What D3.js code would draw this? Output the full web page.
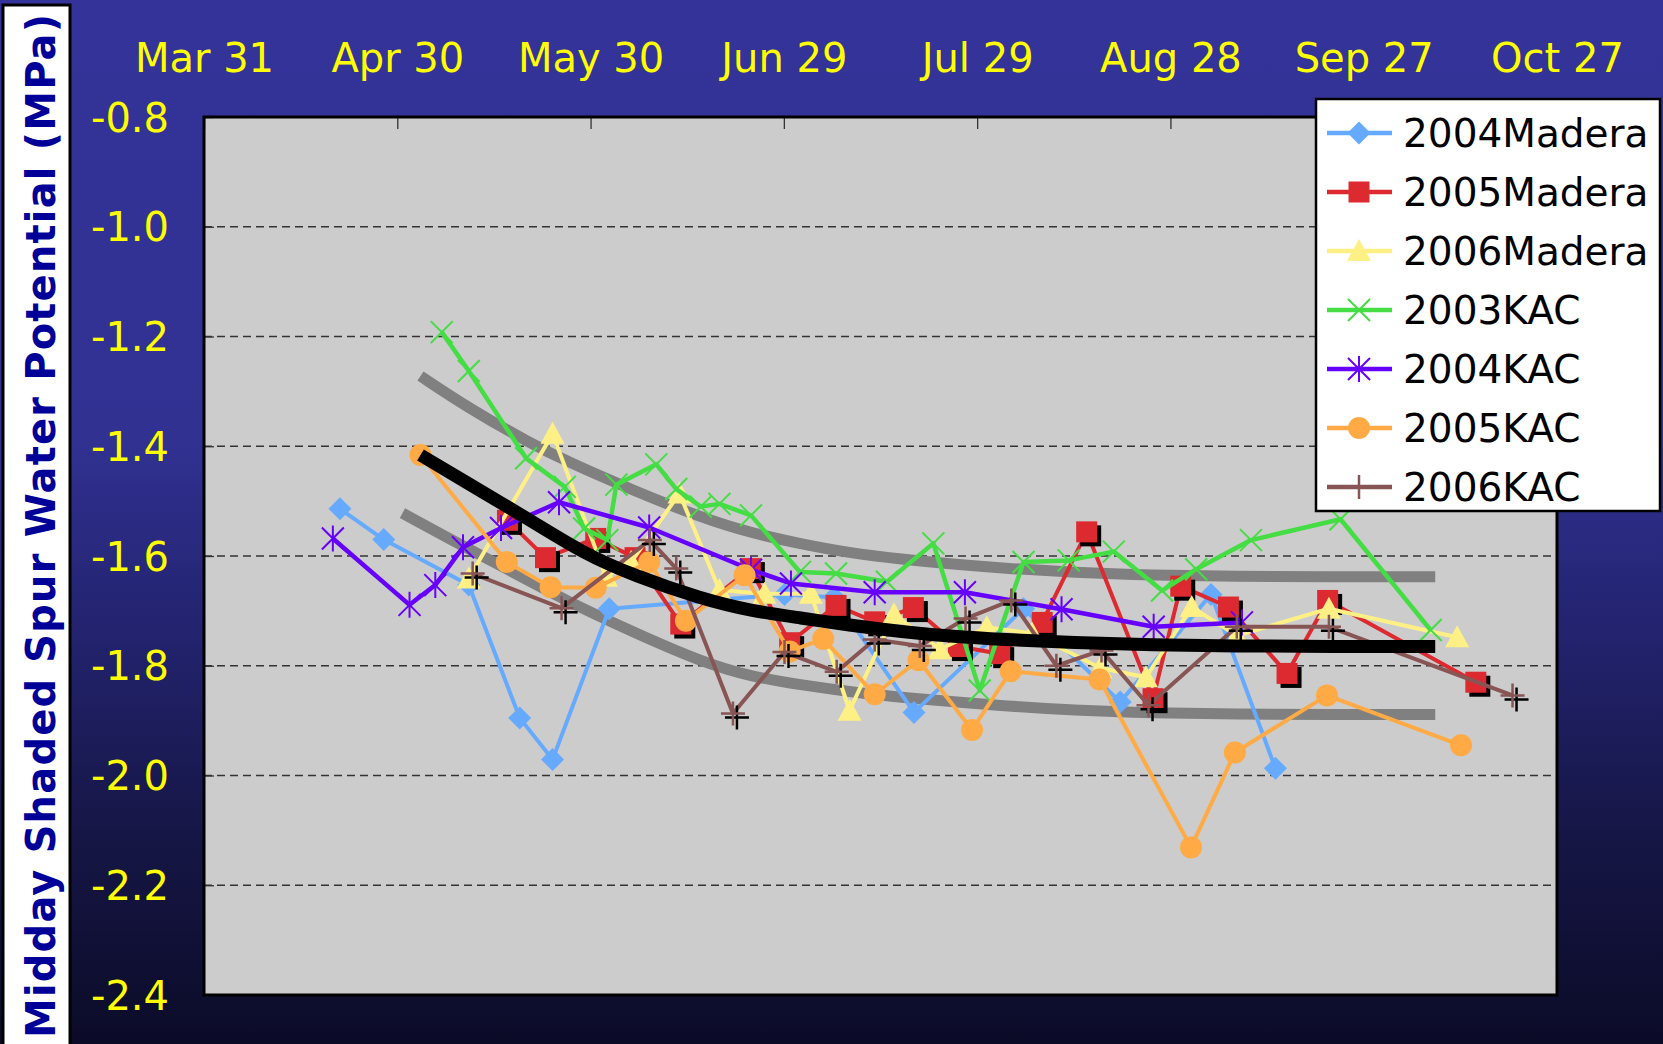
<!DOCTYPE html>
<html><head><meta charset="utf-8">
<script src="https://cdn.jsdelivr.net/npm/d3@7"></script>
<style>body{margin:0;overflow:hidden;background:#0a0a25}svg{display:block}</style>
</head><body>
<svg id="chart" width="1663" height="1044"></svg>
<script>
// ---------- data ----------
const xTickValues = [90, 120, 150, 180, 210, 240, 270, 300]; // day of year
const xTickLabels = ["Mar 31", "Apr 30", "May 30", "Jun 29", "Jul 29", "Aug 28", "Sep 27", "Oct 27"];
const yTickValues = [-0.8, -1.0, -1.2, -1.4, -1.6, -1.8, -2.0, -2.2, -2.4];
const yTickLabels = ["-0.8", "-1.0", "-1.2", "-1.4", "-1.6", "-1.8", "-2.0", "-2.2", "-2.4"];
const seriesNames = ["2004Madera", "2005Madera", "2006Madera", "2003KAC", "2004KAC", "2005KAC", "2006KAC"];

const madera2004 = [[111.1,-1.514],[117.9,-1.570],[131.1,-1.653],[139.0,-1.895],[144.1,-1.971],[152.9,-1.696],[180.1,-1.670],[187.8,-1.675],[200.2,-1.885],[217.2,-1.696],[232.2,-1.866],[246.3,-1.670],[256.3,-1.987]];
const madera2005 = [[137.1,-1.535],[143.0,-1.603],[150.8,-1.568],[156.9,-1.603],[164.0,-1.724],[174.8,-1.623],[180.9,-1.758],[188.1,-1.690],[194.1,-1.720],[200.1,-1.694],[207.1,-1.765],[213.5,-1.778],[220.1,-1.721],[227.0,-1.556],[237.3,-1.860],[241.6,-1.655],[249.0,-1.693],[258.1,-1.814],[264.4,-1.681],[287.4,-1.830]];
const madera2006 = [[131.1,-1.641],[144.1,-1.377],[152.4,-1.638],[156.3,-1.611],[163.8,-1.486],[170.0,-1.662],[177.0,-1.669],[184.2,-1.669],[190.2,-1.882],[197.1,-1.706],[204.2,-1.770],[211.5,-1.730],[218.5,-1.741],[229.1,-1.804],[236.2,-1.821],[243.3,-1.693],[250.3,-1.745],[264.6,-1.696],[284.5,-1.748]];
const kac2003 = [[126.9,-1.192],[131.1,-1.263],[140.0,-1.422],[146.0,-1.474],[149.0,-1.550],[152.6,-1.571],[154.0,-1.470],[160.2,-1.433],[163.3,-1.478],[167.1,-1.510],[170.0,-1.505],[174.9,-1.526],[182.5,-1.629],[188.1,-1.632],[196.0,-1.647],[203.2,-1.577],[210.4,-1.845],[217.2,-1.611],[224.2,-1.608],[231.2,-1.592],[238.7,-1.663],[244.0,-1.624],[252.5,-1.571],[266.4,-1.533],[280.4,-1.735]];
const kac2004 = [[110.0,-1.568],[121.9,-1.689],[125.9,-1.653],[130.2,-1.584],[136.1,-1.549],[145.1,-1.502],[159.1,-1.548],[174.9,-1.625],[181.1,-1.650],[194.1,-1.666],[208.1,-1.666],[223.1,-1.697],[237.4,-1.729],[251.1,-1.721]];
const kac2005 = [[123.6,-1.416],[137.0,-1.611],[143.8,-1.657],[150.8,-1.658],[159.1,-1.611],[164.8,-1.718],[173.9,-1.635],[180.9,-1.774],[186.1,-1.751],[194.1,-1.852],[200.9,-1.790],[209.2,-1.917],[215.2,-1.810],[229.0,-1.825],[243.2,-2.131],[250.0,-1.958],[264.3,-1.854],[285.1,-1.945]];
const kac2006 = [[131.7,-1.632],[145.5,-1.695],[159.2,-1.571],[163.3,-1.623],[172.1,-1.887],[180.1,-1.775],[188.2,-1.811],[194.1,-1.752],[201.1,-1.764],[208.2,-1.714],[215.3,-1.681],[222.3,-1.800],[229.3,-1.772],[236.6,-1.872],[250.3,-1.729],[264.6,-1.729],[293.1,-1.854]];

// fitted curves
const fitMean  = [[123.6,-1.416],[131.0,-1.468],[140.7,-1.535],[149.0,-1.596],[156.8,-1.636],[167.2,-1.678],[174.9,-1.700],[182.7,-1.713],[190.0,-1.726],[198.3,-1.738],[206.4,-1.747],[213.9,-1.752],[225.0,-1.758],[237.2,-1.762],[250.0,-1.764],[265.0,-1.765],[281.1,-1.765]];
const fitUpper = [[123.6,-1.272],[131.0,-1.330],[140.7,-1.395],[146.4,-1.428],[156.5,-1.480],[167.2,-1.530],[174.9,-1.558],[182.7,-1.578],[190.0,-1.594],[198.3,-1.606],[206.3,-1.615],[213.9,-1.622],[225.0,-1.630],[237.2,-1.635],[250.0,-1.637],[265.0,-1.638],[281.1,-1.638]];
const fitLower = [[120.8,-1.522],[128.0,-1.568],[136.1,-1.618],[146.4,-1.683],[156.5,-1.738],[167.2,-1.793],[174.9,-1.820],[182.7,-1.835],[190.0,-1.847],[198.3,-1.858],[213.9,-1.873],[225.0,-1.881],[237.2,-1.886],[250.0,-1.888],[265.0,-1.889],[281.1,-1.889]];

const seriesData = [madera2004, madera2005, madera2006, kac2003, kac2004, kac2005, kac2006];
const seriesColors = ["#66AAFF", "#DD2A30", "#FFF085", "#44DD44", "#6600FF", "#FFAA44", "#885555"];
const seriesMarkers = ["diamond", "square", "triangle", "x", "asterisk", "circle", "plus"];

// ---------- layout ----------
const W = 1663, H = 1044;
const plot = {left: 204, right: 1557, top: 117, bottom: 995};
const svg = d3.select("#chart");
const FONT = "'DejaVu Sans', Verdana, sans-serif";

const defs = svg.append("defs");
const grad = defs.append("linearGradient").attr("id", "bg").attr("x1", 0).attr("y1", 0).attr("x2", 0).attr("y2", 1);
[[0, "#333399"], [0.42, "#313192"], [0.6, "#232370"], [0.8, "#161646"], [1, "#0b0b28"]].forEach(s =>
  grad.append("stop").attr("offset", s[0]).attr("stop-color", s[1]));
svg.append("rect").attr("width", W).attr("height", H).attr("fill", "url(#bg)");

const x = d3.scaleLinear().domain([90, 300]).range([plot.left, plot.right]);
const y = d3.scaleLinear().domain([-0.8, -2.4]).range([plot.top, plot.bottom]);

// y title box
svg.append("rect").attr("x", 3).attr("y", 5).attr("width", 67).attr("height", 1060)
  .attr("fill", "#ffffff").attr("stroke", "#000").attr("stroke-width", 3);
svg.append("text")
  .attr("transform", "translate(55,526) rotate(-90)")
  .attr("text-anchor", "middle")
  .attr("font-family", FONT).attr("font-weight", "bold").attr("font-size", 40)
  .attr("fill", "#000099")
  .attr("textLength", 1024).attr("lengthAdjust", "spacing")
  .text("Midday Shaded Spur Water Potential (MPa)");

// plot area
svg.append("rect").attr("x", plot.left).attr("y", plot.top)
  .attr("width", plot.right - plot.left).attr("height", plot.bottom - plot.top)
  .attr("fill", "#CCCCCC");

// gridlines
svg.append("g").selectAll("line").data(yTickValues.slice(1, -1)).join("line")
  .attr("x1", plot.left).attr("x2", plot.right)
  .attr("y1", d => y(d)).attr("y2", d => y(d))
  .attr("stroke", "#333").attr("stroke-width", 1.3).attr("stroke-dasharray", "8,5");

// y axis (labels + inner ticks)
const yAxis = d3.axisLeft(y).tickValues(yTickValues).tickFormat((d, i) => yTickLabels[i]).tickSize(-10).tickPadding(35);
const gy = svg.append("g").attr("transform", `translate(${plot.left},0)`).call(yAxis);
gy.select(".domain").remove();
gy.selectAll(".tick line").attr("stroke", "#333").attr("stroke-width", 1.3);
gy.selectAll(".tick text").attr("font-family", FONT).attr("font-size", 40).attr("fill", "#FFFF00").attr("dy", "0.35em");

// x axis on top
const xAxis = d3.axisTop(x).tickValues(xTickValues).tickFormat((d, i) => xTickLabels[i]).tickSize(-12).tickPadding(45);
const gx = svg.append("g").attr("transform", `translate(0,${plot.top})`).call(xAxis);
gx.select(".domain").remove();
gx.selectAll(".tick line").attr("stroke", "#333").attr("stroke-width", 1.3);
gx.selectAll(".tick text").attr("font-family", FONT).attr("font-size", 40).attr("fill", "#FFFF00").attr("dy", "0em");

// ---------- markers ----------
function markerPath(type) {
  switch (type) {
    case "diamond": return "M0,-11.5L11.5,0L0,11.5L-11.5,0Z";
    case "square": return "M-10.5,-10.5H10.5V10.5H-10.5Z";
    case "triangle": return "M0,-12L12,10L-12,10Z";
    case "x": return "M-11,-11L11,11M-11,11L11,-11";
    case "asterisk": return "M-11,-11L11,11M-11,11L11,-11M0,-13V13";
    case "circle": return "M11,0A11,11 0 1,1 -11,0A11,11 0 1,1 11,0Z";
    case "plus": return "M-12,0H12M0,-12V12";
  }
}
const strokeMarkers = {x: 2, asterisk: 2, plus: 2.5};
function drawMarker(g, type, color, px, py, shadow) {
  const d = markerPath(type);
  const isStroke = type in strokeMarkers;
  if (shadow) {
    const s = g.append("path").attr("d", d).attr("transform", `translate(${px + 4},${py + 4})`);
    if (isStroke) s.attr("fill", "none").attr("stroke", "#000").attr("stroke-width", strokeMarkers[type]);
    else s.attr("fill", "#000");
  }
  const p = g.append("path").attr("d", d).attr("transform", `translate(${px},${py})`);
  if (isStroke) p.attr("fill", "none").attr("stroke", color).attr("stroke-width", strokeMarkers[type]);
  else p.attr("fill", color);
}

const line = d3.line().x(d => x(d[0])).y(d => y(d[1]));
const smooth = d3.line().x(d => x(d[0])).y(d => y(d[1])).curve(d3.curveBasis);

// gray band curves (beneath data)
[fitUpper, fitLower].forEach(f =>
  svg.append("path").attr("d", smooth(f)).attr("fill", "none")
    .attr("stroke", "#808080").attr("stroke-width", 11).attr("stroke-linecap", "butt"));

// data series
seriesData.forEach((data, i) => {
  const g = svg.append("g");
  g.append("path").attr("d", line(data)).attr("fill", "none")
    .attr("stroke", seriesColors[i]).attr("stroke-width", (i === 3 || i === 4) ? 4.5 : 4)
    .attr("stroke-linejoin", "round");
  const shadow = (i === 1 || i === 6);
  data.forEach(d => drawMarker(g, seriesMarkers[i], seriesColors[i], x(d[0]), y(d[1]), shadow));
});

// black mean curve on top
svg.append("path").attr("d", smooth(fitMean)).attr("fill", "none")
  .attr("stroke", "#000").attr("stroke-width", 13).attr("stroke-linecap", "butt");

// plot frame
svg.append("rect").attr("x", plot.left).attr("y", plot.top)
  .attr("width", plot.right - plot.left).attr("height", plot.bottom - plot.top)
  .attr("fill", "none").attr("stroke", "#000").attr("stroke-width", 3);

// legend
const lg = svg.append("g");
lg.append("rect").attr("x", 1316).attr("y", 99).attr("width", 344).attr("height", 412)
  .attr("fill", "#fff").attr("stroke", "#000").attr("stroke-width", 2.5);
seriesNames.forEach((name, i) => {
  const cy = 133 + i * 59;
  lg.append("line").attr("x1", 1327).attr("x2", 1392).attr("y1", cy).attr("y2", cy)
    .attr("stroke", seriesColors[i]).attr("stroke-width", 4.5);
  drawMarker(lg, seriesMarkers[i], seriesColors[i], 1359, cy, false);
  lg.append("text").attr("x", 1403).attr("y", cy).attr("dy", "0.36em")
    .attr("font-family", FONT).attr("font-size", 39).attr("fill", "#000").text(name);
});
</script>
</body></html>
